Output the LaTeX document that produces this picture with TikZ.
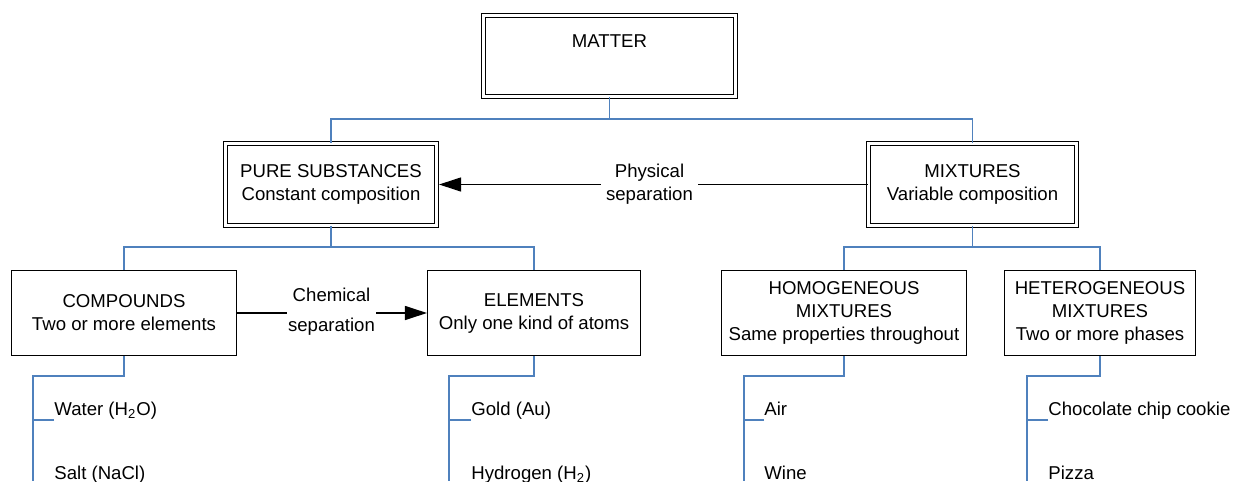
\documentclass[tikz,border=0pt]{standalone}
\usepackage{fontspec}
\setmainfont{Liberation Sans}
\usepackage{tikz}
\usetikzlibrary{positioning,arrows}
\usetikzlibrary{arrows.meta}
\usepackage{xcolor}
\definecolor{treeblue}{RGB}{79,129,189}

\begin{document}
\begin{tikzpicture}[x=0.5pt,y=-0.5pt]
  	\tikzstyle{every node}=[font=\fontsize{9.3}{11.5}\selectfont, align=center]
  	\tikzstyle{classbox}=[draw, line width=0.65pt, double, double distance=1.4pt, inner sep=0pt, minimum height=40.9pt]
  	\tikzstyle{kindbox}=[draw, line width=0.65pt, inner sep=0pt, minimum height=42.4pt]
  	\tikzstyle{example}=[anchor=south west, inner sep=0pt, align=left, text height=7pt, text depth=2.2pt]
  	\tikzstyle{branch}=[draw=treeblue, line width=0.7pt]
  	\tikzstyle{sepline}=[line width=0.65pt]
  	\tikzstyle{separation}=[sepline, -{Triangle[length=11pt,width=7pt]}]
  	\useasboundingbox (0,0) rectangle (1234,481);
  	\draw (609.5,56) node (matter) [classbox, minimum width=125.9pt, minimum height=40.4pt] {MATTER\\\strut};
  	\draw (331,184.5) node (pure) [classbox, minimum width=105.4pt] {PURE SUBSTANCES\\Constant composition};
  	\draw (972.5,184.5) node (mixtures) [classbox, minimum width=103.9pt] {MIXTURES\\Variable composition};
  	\draw (124,313) node (compounds) [kindbox, minimum width=112.3pt] {COMPOUNDS\\Two or more elements};
  	\draw (534,313) node (elements) [kindbox, minimum width=106.4pt] {ELEMENTS\\Only one kind of atoms};
  	\draw (844,313) node (homogeneous) [kindbox, minimum width=122.4pt] {HOMOGENEOUS\\MIXTURES\\Same properties throughout};
  	\draw (1100,313) node (heterogeneous) [kindbox, minimum width=95.4pt] {HETEROGENEOUS\\MIXTURES\\Two or more phases};
  	\draw (649.5,184.5) node (physical) [inner xsep=2.5pt] {Physical\\separation};
  	\draw (331.5,312) node (chemical) [inner xsep=0.5pt] {Chemical\\[3.5pt]separation};
  	% separation arrows
  	\draw [sepline] (mixtures.west) -- (mixtures.west -| physical.east);
  	\draw [separation, shorten >=1pt] (pure.east -| physical.west) -- (pure.east);
  	\draw [sepline] (compounds.east) -- (compounds.east -| chemical.west);
  	\draw [separation] (elements.west -| chemical.east) -- (elements.west);
  	% classification tree
  	\draw [branch] (matter.south) -- ++(0,22) coordinate (matterbus) -| (pure.north);
  	\draw [branch] (matterbus) -| (mixtures.north);
  	\draw [branch] (pure.south) -- ++(0,21) coordinate (purebus) -| (compounds.north);
  	\draw [branch] (purebus) -| (elements.north);
  	\draw [branch] (mixtures.south) -- ++(0,21) coordinate (mixturesbus) -| (homogeneous.north);
  	\draw [branch] (mixturesbus) -| (heterogeneous.north);
  	% examples
  	\coordinate (compoundsend) at (33,481);
  	\coordinate (elementsend) at (449,481);
  	\coordinate (homogeneousend) at (744,481);
  	\coordinate (heterogeneousend) at (1027,481);
  	\draw (54,420) node (water) [example] {Water (H\textsubscript{2}O)};
  	\draw (54,484) node (salt) [example] {Salt (NaCl)};
  	\draw (471,420) node (gold) [example] {Gold (Au)};
  	\draw (471,484) node (hydrogen) [example] {Hydrogen (H\textsubscript{2})};
  	\draw (764,420) node (air) [example] {Air};
  	\draw (764,484) node (wine) [example] {Wine};
  	\draw (1048,420) node (cookie) [example] {Chocolate chip cookie};
  	\draw (1048,484) node (pizza) [example] {Pizza};
  	\draw [branch] (compounds.south) -- ++(0,20) -| (compoundsend);
  	\draw [branch] (elements.south) -- ++(0,20) -| (elementsend);
  	\draw [branch] (homogeneous.south) -- ++(0,20) -| (homogeneousend);
  	\draw [branch] (heterogeneous.south) -- ++(0,20) -| (heterogeneousend);
  	\draw [branch] (water.south west) -- (water.south west -| compoundsend);
  	\draw [branch] (salt.south west) -- (salt.south west -| compoundsend);
  	\draw [branch] (gold.south west) -- (gold.south west -| elementsend);
  	\draw [branch] (hydrogen.south west) -- (hydrogen.south west -| elementsend);
  	\draw [branch] (air.south west) -- (air.south west -| homogeneousend);
  	\draw [branch] (wine.south west) -- (wine.south west -| homogeneousend);
  	\draw [branch] (cookie.south west) -- (cookie.south west -| heterogeneousend);
  	\draw [branch] (pizza.south west) -- (pizza.south west -| heterogeneousend);
\end{tikzpicture}
\end{document}
